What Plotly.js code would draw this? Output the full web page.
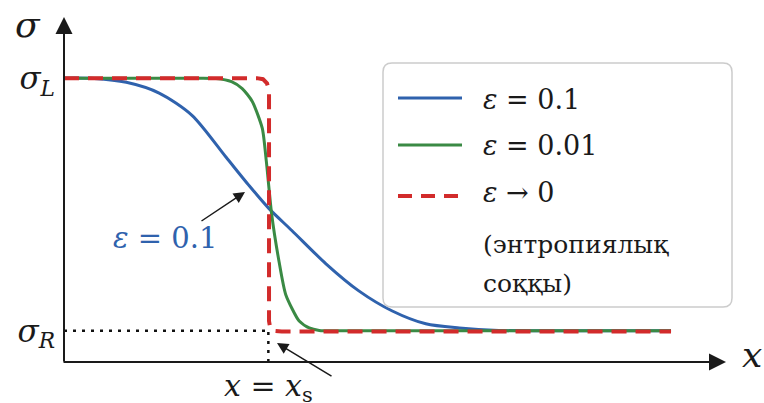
<!DOCTYPE html>
<html><head><meta charset="utf-8">
<script src="https://cdn.plot.ly/plotly-3.0.1.min.js"></script>
<style>html,body{margin:0;padding:0;background:#fff}</style>
</head><body><div id="chart" style="width:764px;height:403px"></div>
<script>
// ---- data ----
const SIGMA_L = 0.818;
const SIGMA_R = 0.090;
const X_S = 3.05;

const X_BLUE = [0, 0.45, 0.93, 1.42, 1.91, 2.42, 2.76, 3.06, 3.40, 3.91, 4.40, 4.90, 5.40, 5.90, 6.49, 7.39, 9.06];
const Y_BLUE = [0.818, 0.817, 0.806, 0.775, 0.711, 0.590, 0.509, 0.442, 0.379, 0.283, 0.205, 0.147, 0.110, 0.098, 0.091, 0.090, 0.090];

const X_GREEN = [0, 2.02, 2.27, 2.50, 2.66, 2.81, 2.96, 3.02, 3.10, 3.21, 3.31, 3.51, 3.66, 3.81, 4.10, 9.06];
const Y_GREEN = [0.818, 0.818, 0.817, 0.808, 0.788, 0.751, 0.673, 0.578, 0.425, 0.289, 0.194, 0.118, 0.098, 0.091, 0.090, 0.090];

const X_RED = [0, 2.88, 2.97, 3.03, 3.06, 3.06, 3.075, 3.13, 3.25, 9.06];
const Y_RED = [0.818, 0.818, 0.815, 0.803, 0.783, 0.118, 0.101, 0.090, 0.088, 0.088];

const SERIES_NAMES = ['<i>ε</i> = 0.1', '<i>ε</i> = 0.01', '<i>ε</i> → 0'];
const SHOCK_NOTE = ['(энтропиялық', 'соққы)'];
const Y_TICK_LABELS = ['<i>σ<sub>R</sub></i>', '<i>σ<sub>L</sub></i>'];
const X_TICK_LABELS = ['<i>x</i> = <i>x</i><sub>s</sub>'];
const AXIS_LABEL_Y = '<i>σ</i>';
const AXIS_LABEL_X = '<i>x</i>';
const NOTE_LABEL = '<i>ε</i> = 0.1';

// ---- styling / layout helpers ----
const W = 764, H = 403;
const M = {l: 64, r: 30, t: 15, b: 41};
const PW = W - M.l - M.r, PH = H - M.t - M.b;
const px2p = px => (px - M.l) / PW;
const py2p = py => (H - M.b - py) / PH;
const XMAX = 10;
const px2x = px => px2p(px) * XMAX;
const py2y = py => py2p(py);

const BLUE = '#2f62ad', GREEN = '#3a8a44', RED = '#d22b2b';
const FONT = 'DejaVu Serif';
const TXT = '#1a1a1a';

const traces = [
  {x: X_BLUE, y: Y_BLUE, mode: 'lines', line: {color: BLUE, width: 3, shape: 'spline', smoothing: 0.8}, hoverinfo: 'skip'},
  {x: X_GREEN, y: Y_GREEN, mode: 'lines', line: {color: GREEN, width: 3, shape: 'spline', smoothing: 0.6}, hoverinfo: 'skip'},
  {x: X_RED, y: Y_RED, mode: 'lines', line: {color: RED, width: 4, dash: '15px,9px'}, hoverinfo: 'skip'}
];

function roundedBox(x0, y0, x1, y1, r) {
  const X = px2p, Y = py2p;
  return `M${X(x0 + r)},${Y(y0)} L${X(x1 - r)},${Y(y0)} Q${X(x1)},${Y(y0)} ${X(x1)},${Y(y0 + r)} ` +
         `L${X(x1)},${Y(y1 - r)} Q${X(x1)},${Y(y1)} ${X(x1 - r)},${Y(y1)} ` +
         `L${X(x0 + r)},${Y(y1)} Q${X(x0)},${Y(y1)} ${X(x0)},${Y(y1 - r)} ` +
         `L${X(x0)},${Y(y0 + r)} Q${X(x0)},${Y(y0)} ${X(x0 + r)},${Y(y0)} Z`;
}

const shapes = [
  {type: 'line', xref: 'x', yref: 'y', x0: 0, x1: X_S, y0: SIGMA_R, y1: SIGMA_R, line: {color: '#111', width: 2.5, dash: '3px,6px'}, layer: 'below'},
  {type: 'line', xref: 'x', yref: 'y', x0: X_S, x1: X_S, y0: 0, y1: SIGMA_R, line: {color: '#111', width: 2.5, dash: '3px,6px'}, layer: 'below'},
  {type: 'path', xref: 'paper', yref: 'paper', path: roundedBox(383, 63, 732, 307, 9),
   line: {color: '#cccccc', width: 1.5}, fillcolor: 'rgba(255,255,255,0.85)', layer: 'above'},
  {type: 'line', xref: 'paper', yref: 'paper', x0: px2p(398), x1: px2p(462), y0: py2p(98), y1: py2p(98), line: {color: BLUE, width: 3}, layer: 'above'},
  {type: 'line', xref: 'paper', yref: 'paper', x0: px2p(398), x1: px2p(462), y0: py2p(145), y1: py2p(145), line: {color: GREEN, width: 3}, layer: 'above'},
  {type: 'line', xref: 'paper', yref: 'paper', x0: px2p(398), x1: px2p(462), y0: py2p(196), y1: py2p(196), line: {color: RED, width: 4, dash: '14px,9px'}, layer: 'above'}
];

const legendText = (txt, py, size) => ({xref: 'paper', yref: 'paper', x: px2p(481), y: py2p(py), xanchor: 'left', yanchor: 'middle',
  text: txt, showarrow: false, font: {family: FONT, size: size, color: TXT}});

const arrow = (tipx, tipy, tailx, taily, w, size) => ({xref: 'x', yref: 'y', axref: 'x', ayref: 'y',
  x: px2x(tipx), y: py2y(tipy), ax: px2x(tailx), ay: py2y(taily), text: '', showarrow: true,
  arrowhead: 2, arrowsize: size, arrowwidth: w, arrowcolor: '#1a1a1a', standoff: 0, startstandoff: 0});

const annotations = [
  arrow(726, 362, 62, 362, 2, 1.7),
  arrow(64, 17, 64, 363, 2, 1.7),
  {xref: 'paper', yref: 'paper', x: px2p(28), y: py2p(25), xanchor: 'center', yanchor: 'middle', text: AXIS_LABEL_Y, showarrow: false,
   font: {family: FONT, size: 36, color: TXT}},
  {xref: 'paper', yref: 'paper', x: px2p(752), y: py2p(354), xanchor: 'center', yanchor: 'middle', text: AXIS_LABEL_X, showarrow: false,
   font: {family: FONT, size: 36, color: TXT}},
  arrow(245, 192, 200, 222, 1.5, 1.5),
  arrow(277, 343, 333, 377, 1.5, 1.5),
  {xref: 'x', yref: 'y', x: px2x(165), y: py2y(238), xanchor: 'center', yanchor: 'middle', text: NOTE_LABEL, showarrow: false,
   font: {family: FONT, size: 29, color: BLUE}},
  legendText(SERIES_NAMES[0], 100, 27),
  legendText(SERIES_NAMES[1], 145, 27),
  legendText(SERIES_NAMES[2], 192, 27),
  legendText(SHOCK_NOTE[0], 244, 25),
  legendText(SHOCK_NOTE[1], 283, 25)
];

const layout = {
  width: W, height: H,
  margin: M,
  paper_bgcolor: '#fff', plot_bgcolor: '#fff',
  showlegend: false,
  font: {family: FONT, color: TXT},
  xaxis: {range: [0, XMAX], showgrid: false, zeroline: false, showline: false, ticks: '',
    tickmode: 'array', tickvals: [X_S], ticktext: X_TICK_LABELS, ticklabelstandoff: 3,
    tickfont: {family: FONT, size: 30, color: TXT}, fixedrange: true},
  yaxis: {range: [0, 1], showgrid: false, zeroline: false, showline: false, ticks: '',
    tickmode: 'array', tickvals: [SIGMA_R, SIGMA_L], ticktext: Y_TICK_LABELS, ticklabelstandoff: 8,
    tickfont: {family: FONT, size: 31, color: TXT}, fixedrange: true},
  shapes: shapes,
  annotations: annotations
};

Plotly.newPlot('chart', traces, layout, {staticPlot: true, displayModeBar: false});
</script>
</body></html>
